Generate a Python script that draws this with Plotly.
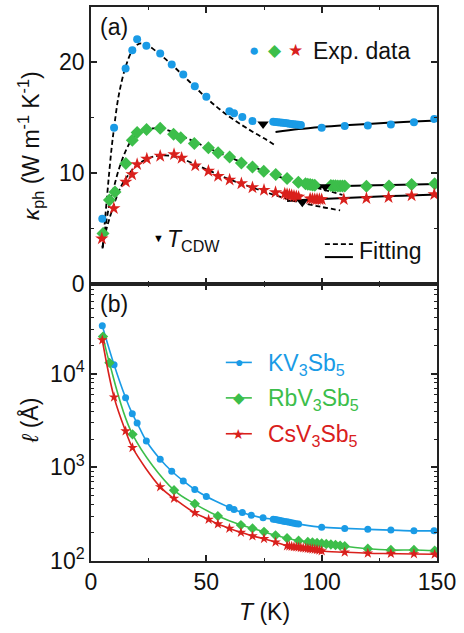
import plotly.graph_objects as go

# ---------------- colours ----------------
C_K, C_Rb, C_Cs = "#1A9BE6", "#3CBE4A", "#D9201C"
FONT = "Liberation Sans, Arial, sans-serif"
FS = 23

# ---------------- panel (a): kappa_ph ----------------
T_K_a = [4.9, 10, 15, 17.9, 20, 24, 30, 35, 40, 45, 50, 60, 62, 65.6, 70,
         79, 80, 81, 82, 83, 84, 85, 86, 87, 88, 89, 90, 91,
         100, 110, 120, 130, 140, 148.8]
kappa_K = [5.9, 14.1, 19.45, 21.1, 22.1, 21.5, 20.8, 19.8, 18.9, 17.85, 16.9, 15.6, 15.4, 15.07, 14.7,
           14.65, 14.63, 14.6, 14.58, 14.55, 14.52, 14.5, 14.47, 14.45, 14.42, 14.4, 14.37, 14.35,
           14.1, 14.25, 14.3, 14.4, 14.6, 14.9]

T_Rb_a = [5.2, 8.0, 10.4, 15.1, 17.9, 20, 24.1, 30, 35.8, 38.9, 44.8, 50.9, 55.1, 60.1, 65.2, 70, 74.9,
          80.1, 85, 89.9, 93, 94, 95, 96, 97, 104, 105, 106, 107, 108, 109, 110,
          119.4, 129.2, 139, 149]
kappa_Rb = [4.55, 7.58, 8.3, 10.88, 12.98, 13.67, 13.94, 14.06, 13.52, 13.19, 12.68, 12.3, 11.84, 11.46,
            10.92, 10.56, 10.18, 9.88, 9.52, 9.19, 9.05, 9.0, 8.97, 8.94, 8.92, 8.88, 8.87, 8.86, 8.85,
            8.85, 8.85, 8.85, 8.83, 8.85, 8.98, 9.04]

T_Cs_a = [4.7, 9.9, 15.1, 17.8, 20, 24.2, 30, 36, 39.3, 45.2, 50.9, 55.1, 60.1, 65.2, 70, 75, 80,
          84, 85, 86, 87, 88, 89, 90, 95, 96, 97, 98, 99, 100,
          109.6, 119.4, 129, 139, 148.8]
kappa_Cs = [4.1, 6.83, 9.22, 9.88, 10.8, 11.3, 11.55, 11.7, 11.37, 10.68, 10.2, 9.73, 9.4, 9.07, 8.71,
            8.48, 8.27, 8.15, 8.1, 8.05, 8.0, 7.95, 7.9, 7.85, 7.7, 7.68, 7.66, 7.65, 7.64, 7.63,
            7.64, 7.73, 7.82, 7.97, 8.09]

# CDW transition markers
T_cdw = [74.6, 101.5, 91.6]
kappa_cdw = [14.44, 8.77, 7.38]

# dashed fits (low-T) and solid fits (high-T)
T_fitK_lo = [5, 6, 7, 8, 9, 10, 12, 15, 18, 21, 24, 30, 35, 40, 45, 50, 55, 60, 65, 70, 75, 80]
fitK_lo = [3.2, 5.6, 8.0, 10.3, 12.4, 14.1, 17.0, 19.6, 21.1, 21.7, 21.6, 20.7, 19.8, 18.8, 17.8,
           16.8, 15.9, 15.1, 14.4, 13.75, 13.15, 12.5]
T_fitK_hi = [80, 90, 100, 110, 120, 130, 140, 150]
fitK_hi = [13.72, 13.98, 14.17, 14.32, 14.45, 14.56, 14.66, 14.75]

T_fitRb_lo = [5, 6, 7, 8, 9, 10, 12, 15, 18, 22, 27, 32, 40, 50, 60, 70, 80, 90, 100, 109]
fitRb_lo = [3.3, 4.8, 6.1, 7.2, 8.1, 8.8, 10.3, 12.0, 13.1, 13.8, 14.05, 13.95, 13.3, 12.35, 11.45,
            10.6, 9.8, 9.1, 8.55, 8.05]
T_fitRb_hi = [95, 110, 130, 150]
fitRb_hi = [8.72, 8.84, 8.93, 9.02]

T_fitCs_lo = [5, 6, 7, 8, 10, 13, 16, 20, 25, 30, 35, 40, 50, 60, 70, 80, 90, 100, 108]
fitCs_lo = [3.3, 4.3, 5.2, 5.9, 7.2, 8.8, 9.8, 10.75, 11.35, 11.6, 11.55, 11.25, 10.35, 9.45, 8.7,
            8.0, 7.4, 6.95, 6.65]
T_fitCs_hi = [85, 100, 120, 135, 150]
fitCs_hi = [7.5, 7.68, 7.85, 7.97, 8.08]

# ---------------- panel (b): mean free path ----------------
T_K_b = [4.9, 10, 15, 17.9, 20, 24, 30, 35, 40, 45, 50, 60, 62, 65.6, 69.5, 74.6,
         79, 80, 81, 82, 83, 84, 85, 86, 87, 88, 89, 90,
         100, 110, 120, 130, 140, 148.7]
l_K = [32700, 12500, 5550, 3750, 2980, 1915, 1222, 910, 718, 581, 489, 373, 355, 330, 309, 289,
       280, 277, 274, 271, 268, 265, 262, 259, 256, 253, 250, 248,
       230, 223, 218, 214, 210, 210]

T_Rb_b = [5.2, 8.0, 18, 36, 45, 55, 65, 70, 75, 80, 85, 90,
          94, 96, 98, 100, 102, 104, 106, 108, 110,
          120, 130, 140, 149]
l_Rb = [25000, 13100, 2255, 571, 408, 302, 242, 223, 205, 188, 175, 165,
        160, 158, 156, 154, 152, 150, 148, 146, 144,
        135, 131, 131, 129]

T_Cs_b = [4.9, 10, 15, 18, 30, 36, 45, 51, 55, 60, 65, 70, 75, 80,
          85, 86, 87, 88, 89, 90, 91, 92, 93, 94, 95, 96, 97, 98, 99, 100,
          110, 120, 130, 140, 149]
l_Cs = [23000, 5630, 2445, 1625, 619, 466, 327, 278, 248, 223, 202, 185, 173, 159,
        145, 144, 143, 142, 141, 140, 139, 138, 137, 136, 135, 134, 133, 132, 130, 128,
        124, 121, 120, 119, 118]

names = ["KV<sub>3</sub>Sb<sub>5</sub>", "RbV<sub>3</sub>Sb<sub>5</sub>", "CsV<sub>3</sub>Sb<sub>5</sub>"]

fig = go.Figure()

# ---- panel (a) ----
for Tx, yy in [(T_fitK_lo, fitK_lo), (T_fitRb_lo, fitRb_lo), (T_fitCs_lo, fitCs_lo)]:
    fig.add_trace(go.Scatter(x=Tx, y=yy, mode="lines", line=dict(color="black", width=1.8, dash="5px,3px", shape="spline"),
                             xaxis="x2", yaxis="y2", showlegend=False, hoverinfo="skip"))
for Tx, yy in [(T_fitK_hi, fitK_hi), (T_fitRb_hi, fitRb_hi), (T_fitCs_hi, fitCs_hi)]:
    fig.add_trace(go.Scatter(x=Tx, y=yy, mode="lines", line=dict(color="black", width=2, shape="spline"),
                             xaxis="x2", yaxis="y2", showlegend=False, hoverinfo="skip"))

fig.add_trace(go.Scatter(x=T_K_a, y=kappa_K, mode="markers", marker=dict(symbol="circle", size=8, color=C_K),
                         xaxis="x2", yaxis="y2", showlegend=False))
fig.add_trace(go.Scatter(x=T_Rb_a, y=kappa_Rb, mode="markers", marker=dict(symbol="diamond", size=10, color=C_Rb),
                         xaxis="x2", yaxis="y2", showlegend=False))
fig.add_trace(go.Scatter(x=T_Cs_a, y=kappa_Cs, mode="markers", marker=dict(symbol="star", size=10, color=C_Cs),
                         xaxis="x2", yaxis="y2", showlegend=False))
fig.add_trace(go.Scatter(x=T_cdw, y=kappa_cdw, mode="markers", marker=dict(symbol="triangle-down", size=10, color="black"),
                         xaxis="x2", yaxis="y2", showlegend=False))

# ---- panel (b) ----
for Tx, yy, c, sym, sz, nm in [(T_K_b, l_K, C_K, "circle", 7, names[0]),
                               (T_Rb_b, l_Rb, C_Rb, "diamond", 8, names[1]),
                               (T_Cs_b, l_Cs, C_Cs, "star", 8, names[2])]:
    fig.add_trace(go.Scatter(x=Tx, y=yy, mode="lines+markers", line=dict(color=c, width=1.6, shape="spline"),
                             marker=dict(symbol=sym, size=sz, color=c), name=nm,
                             xaxis="x", yaxis="y", showlegend=False))

axis_common = dict(showline=True, linecolor="#222", linewidth=1.5, mirror="ticks", ticks="inside",
                   ticklen=6, tickwidth=1.5, tickcolor="#222", showgrid=False, zeroline=False,
                   tickfont=dict(family=FONT, size=FS, color="#111"))
minor_common = dict(ticks="inside", ticklen=3.5, tickwidth=1.3, tickcolor="#222")

fig.update_layout(
    width=464, height=633,
    margin=dict(l=91, r=27, t=5, b=72),
    paper_bgcolor="white", plot_bgcolor="white",
    font=dict(family=FONT, size=FS, color="#111"),
    xaxis=dict(domain=[0, 1], range=[0, 150], tickvals=[0, 50, 100, 150], anchor="y",
               minor=dict(tickvals=[25, 75, 125], **minor_common), **axis_common),
    xaxis2=dict(domain=[0, 1], range=[0, 150], tickvals=[0, 50, 100, 150], anchor="y2", matches="x",
                showticklabels=False,
                minor=dict(tickvals=[25, 75, 125], **minor_common), **axis_common),
    yaxis=dict(domain=[0, 0.5], type="log", range=[2, 4.96], anchor="x",
               tickvals=[100, 1000, 10000], ticktext=["10<sup>2</sup>", "10<sup>3</sup>", "10<sup>4</sup>"],
               minor=dict(tickvals=[200, 300, 400, 500, 600, 700, 800, 900,
                                    2000, 3000, 4000, 5000, 6000, 7000, 8000, 9000,
                                    20000, 30000, 40000, 50000, 60000, 70000, 80000, 90000],
                          **minor_common),
               **axis_common),
    yaxis2=dict(domain=[0.5, 1], range=[0, 25], anchor="x2", tickvals=[0, 10, 20],
                minor=dict(tickvals=[5, 15, 25], **minor_common), **axis_common),
    showlegend=False,
)

ann = []
def A(x, y, text, size=FS, xanchor="left", color="#111", angle=0):
    ann.append(dict(xref="paper", yref="paper", x=x, y=y, text=text, showarrow=False, textangle=angle,
                    xanchor=xanchor, yanchor="middle", font=dict(family=FONT, size=size, color=color)))

def px(xp):
    return (xp - 91.3) / 345.7
def py(yp):
    return (561 - yp) / 556

# axis titles
A(px(30), py(144), "<i>κ</i><sub>ph</sub> (W m<sup>-1</sup> K<sup>-1</sup>)", xanchor="center", angle=-90)
A(px(30), py(420), "<i>ℓ</i> (Å)", xanchor="center", angle=-90)
A(px(265), py(612), "<i>T</i> (K)", xanchor="center")

# panel labels and legends
A(px(98), py(25), "(a)")
A(px(98), py(303), "(b)")
A(px(254), py(49), "●", size=17, xanchor="center", color=C_K)
A(px(275), py(49), "◆", size=17, xanchor="center", color=C_Rb)
A(px(296), py(49), "★", size=17, xanchor="center", color=C_Cs)
A(px(311), py(49), "Exp. data")
A(px(159), py(237), "▼", size=11, xanchor="center", color="black")
A(px(165), py(239), "<i>T</i><sub>CDW</sub>")
A(px(357), py(250), "Fitting")

fig.add_shape(type="line", xref="paper", yref="paper", x0=px(325), x1=px(353), y0=py(243), y1=py(243),
              line=dict(color="black", width=1.8, dash="5px,3px"))
fig.add_shape(type="line", xref="paper", yref="paper", x0=px(325), x1=px(353), y0=py(256), y1=py(256),
              line=dict(color="black", width=2))

# panel (b) legend
for yk, c, glyph, gs, nm in [(361.7, C_K, "●", 14, names[0]), (397.3, C_Rb, "◆", 15, names[1]),
                             (433.3, C_Cs, "★", 14, names[2])]:
    fig.add_shape(type="line", xref="paper", yref="paper", x0=px(226), x1=px(252), y0=py(yk), y1=py(yk),
                  line=dict(color=c, width=1.6))
    A(px(239), py(yk), glyph, size=gs, xanchor="center", color=c)
    A(px(266), py(yk + 2), nm, color=c)

fig.update_layout(annotations=ann)

fig.write_html("out.html", config={"displayModeBar": False},
               post_script="document.body.style.margin='0px';")
